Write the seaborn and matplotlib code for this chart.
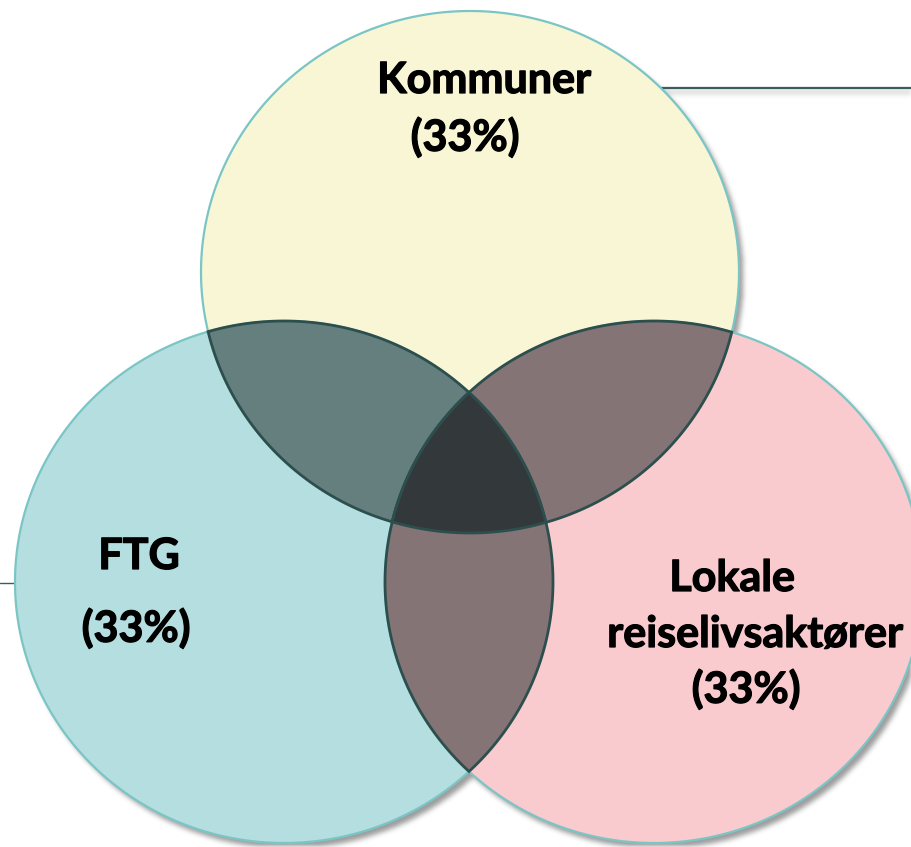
import numpy as np
import matplotlib
matplotlib.use("Agg")
import matplotlib.pyplot as plt
import matplotlib.patheffects as pe
from matplotlib.patches import Polygon
import seaborn as sb

sb.set_theme(style="white")
plt.rcParams['font.family'] = ['Lato', 'DejaVu Sans']

# data
set_names = ['Kommuner', 'FTG', 'Lokale\nreiselivsaktører']
set_shares = [33, 33, 33]
set_colors = ['#F8F6D5', '#B4DEDF', '#F9CBCE']
pair_colors = {(0, 1): '#657F7E', (0, 2): '#857475', (1, 2): '#857475'}
center_color = '#33383B'

# layout (pixel coords, y down)
W, H = 912, 847
centers = [(470, 272), (284, 582), (654, 582)]
rx, ry = 269, 261


def ellipse_pts(c, n=360):
    t = np.linspace(0, 2 * np.pi, n, endpoint=False)
    return [(c[0] + rx * np.cos(a), c[1] + ry * np.sin(a)) for a in t]


def clip(subject, clipper):
    # Sutherland-Hodgman, clipper is convex
    def inside(p, a, b):
        return (b[0] - a[0]) * (p[1] - a[1]) - (b[1] - a[1]) * (p[0] - a[0]) >= 0

    def cross_pt(s, e, a, b):
        dx1, dy1 = e[0] - s[0], e[1] - s[1]
        dx2, dy2 = b[0] - a[0], b[1] - a[1]
        den = dx1 * dy2 - dy1 * dx2
        t = ((a[0] - s[0]) * dy2 - (a[1] - s[1]) * dx2) / den
        return (s[0] + t * dx1, s[1] + t * dy1)

    out = subject
    for i in range(len(clipper)):
        a, b = clipper[i - 1], clipper[i]
        inp, out = out, []
        if not inp:
            break
        s = inp[-1]
        for e in inp:
            if inside(e, a, b):
                if not inside(s, a, b):
                    out.append(cross_pt(s, e, a, b))
                out.append(e)
            elif inside(s, a, b):
                out.append(cross_pt(s, e, a, b))
            s = e
    return out


def blur(img, r):
    k = np.ones(2 * r + 1) / (2 * r + 1)
    for _ in range(3):
        img = np.apply_along_axis(lambda m: np.convolve(m, k, mode='same'), 0, img)
        img = np.apply_along_axis(lambda m: np.convolve(m, k, mode='same'), 1, img)
    return img


fig = plt.figure(figsize=(W / 100, H / 100), dpi=100)
ax = fig.add_axes([0, 0, 1, 1])
ax.set_xlim(0, W)
ax.set_ylim(H, 0)
ax.axis('off')

# soft drop shadow
yy, xx = np.mgrid[0:H, 0:W]
mask = np.zeros((H, W))
for c in centers:
    mask = np.maximum(mask, (((xx - c[0] - 4) / rx) ** 2 + ((yy - c[1] - 5) / ry) ** 2 <= 1).astype(float))
line_mask = np.zeros((H, W))
line_mask[90:94, 660:W] = 1
shadow = blur(mask, 2) * 0.55 + blur(line_mask, 2) * 0.25
rgba = np.zeros((H, W, 4))
rgba[..., :3] = 0.3
rgba[..., 3] = np.clip(shadow, 0, 1)
ax.imshow(rgba, extent=(0, W, H, 0), zorder=0, interpolation='bilinear')

# frame lines behind the circles
ax.plot([640, W], [88, 88], color='#3D5C5E', lw=1.6, zorder=1, solid_capstyle='butt')
ax.plot([0, 30], [583, 583], color='#3D5C5E', lw=1.0, zorder=1)

polys = [ellipse_pts(c) for c in centers]
for p, col in zip(polys, set_colors):
    ax.add_patch(Polygon(p, closed=True, fc=col, ec='#7CC5C5', lw=1.6, zorder=2))

for (i, j), col in pair_colors.items():
    reg = clip(polys[i], polys[j])
    ax.add_patch(Polygon(reg, closed=True, fc=col, ec='#2C4F4E', lw=2.0, zorder=3))

mid = clip(clip(polys[0], polys[1]), polys[2])
ax.add_patch(Polygon(mid, closed=True, fc=center_color, ec='#2C4F4E', lw=2.0, zorder=4))

# labels
kw = dict(ha='center', va='center', fontsize=31, fontweight='bold', color='black', zorder=5,
          path_effects=[pe.withStroke(linewidth=0.9, foreground='black')])
ax.text(484, 80, set_names[0], **kw)
ax.text(465, 137, f'({set_shares[0]}%)', **kw)
ax.text(139, 556, set_names[1], **kw)
ax.text(136, 628, f'({set_shares[1]}%)', **kw)
line1, line2 = set_names[2].split('\n')
ax.text(732, 578, line1, **kw)
ax.text(755, 634, line2, **kw)
ax.text(746, 689, f'({set_shares[2]}%)', **kw)

fig.savefig('out.png', dpi=100)
